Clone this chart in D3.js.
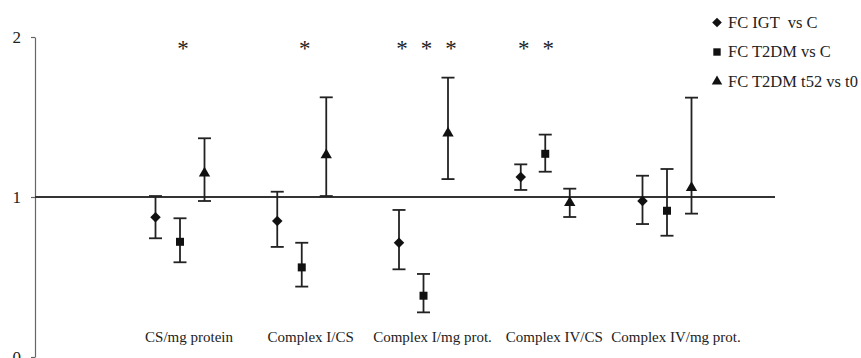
<!DOCTYPE html>
<html>
<head>
<meta charset="utf-8">
<script src="https://cdn.jsdelivr.net/npm/d3@7"></script>
<style>
  html, body { margin: 0; padding: 0; background: #fff; }
  svg { display: block; }
  text { font-family: "Liberation Serif", "Times New Roman", serif; fill: #222; }
</style>
</head>
<body>
<svg id="chart" width="861" height="358"></svg>
<script>
// ---- data ----
const categories = ["CS/mg protein", "Complex I/CS", "Complex I/mg prot.", "Complex IV/CS", "Complex IV/mg prot."];
const seriesNames = ["FC IGT  vs C", "FC T2DM vs C", "FC T2DM t52 vs t0"];
const seriesSymbols = ["diamond", "square", "triangle"];

const igtValue = [0.873, 0.85, 0.714, 1.125, 0.975];
const igtUpper = [1.006, 1.033, 0.919, 1.204, 1.133];
const igtLower = [0.742, 0.688, 0.548, 1.044, 0.831];

const t2dmValue = [0.72, 0.56, 0.383, 1.27, 0.914];
const t2dmUpper = [0.867, 0.714, 0.519, 1.39, 1.175];
const t2dmLower = [0.592, 0.44, 0.279, 1.158, 0.758];

const t52Value = [1.148, 1.262, 1.398, 0.964, 1.058];
const t52Upper = [1.367, 1.623, 1.746, 1.052, 1.621];
const t52Lower = [0.975, 1.006, 1.112, 0.875, 0.896];

// significance markers (asterisk above series point)
const igtSig  = [false, false, true, true, false];
const t2dmSig = [true, true, true, true, false];
const t52Sig  = [false, false, true, false, false];

const yTicks = [0, 1, 2];
const referenceValue = 1;

// ---- build ----
const series = [
  { name: seriesNames[0], symbol: seriesSymbols[0], value: igtValue, upper: igtUpper, lower: igtLower, sig: igtSig },
  { name: seriesNames[1], symbol: seriesSymbols[1], value: t2dmValue, upper: t2dmUpper, lower: t2dmLower, sig: t2dmSig },
  { name: seriesNames[2], symbol: seriesSymbols[2], value: t52Value, upper: t52Upper, lower: t52Lower, sig: t52Sig }
];

const svg = d3.select("#chart");
const axisX = 35, refLineEnd = 775;

const y = d3.scaleLinear().domain([0, 2]).range([357, 37]);
const x = d3.scalePoint().domain(categories).range([180, 667]);
const xOff = d3.scalePoint().domain(seriesNames).range([-24.5, 24.5]);

const symbolMap = { diamond: d3.symbolDiamond2, square: d3.symbolSquare, triangle: d3.symbolTriangle };
const symbolSize = { diamond: 70, square: 64, triangle: 56 };
const sym = s => d3.symbol().type(symbolMap[s]).size(symbolSize[s])();

// y axis
const yAxis = svg.append("g")
  .attr("transform", `translate(${axisX},0)`)
  .call(d3.axisLeft(y).tickValues(yTicks).tickFormat(d3.format("d")).tickSize(4).tickSizeOuter(0).tickPadding(10));
yAxis.select(".domain").attr("stroke", "#666").attr("stroke-width", 1.2);
yAxis.selectAll(".tick line").attr("stroke", "#666").attr("stroke-width", 1.2);
yAxis.selectAll(".tick text")
  .style("font-family", "'Liberation Serif', serif").style("font-size", "17px").attr("fill", "#222");

// reference line
svg.append("line")
  .attr("x1", axisX).attr("x2", refLineEnd)
  .attr("y1", y(referenceValue)).attr("y2", y(referenceValue))
  .attr("stroke", "#333").attr("stroke-width", 2);

// error bars + markers
const capHalf = 6.5;
series.forEach(s => {
  const g = svg.append("g");
  categories.forEach((c, i) => {
    const cx = x(c) + xOff(s.name);
    g.append("line").attr("x1", cx).attr("x2", cx)
      .attr("y1", y(s.upper[i])).attr("y2", y(s.lower[i]))
      .attr("stroke", "#222").attr("stroke-width", 1.8);
    [s.upper[i], s.lower[i]].forEach(v => {
      g.append("line").attr("x1", cx - capHalf).attr("x2", cx + capHalf)
        .attr("y1", y(v)).attr("y2", y(v))
        .attr("stroke", "#222").attr("stroke-width", 1.8);
    });
    g.append("path").attr("d", sym(s.symbol))
      .attr("transform", `translate(${cx},${y(s.value[i])})`)
      .attr("fill", "#111");
    if (s.sig[i]) {
      svg.append("text").attr("x", cx + 3).attr("y", 56)
        .attr("text-anchor", "middle").style("font-size", "23px").attr("fill", "#333")
        .text("*");
    }
  });
});

// category labels
svg.append("g").selectAll("text").data(categories).join("text")
  .attr("x", c => x(c) + 9).attr("y", 342)
  .attr("text-anchor", "middle").style("font-size", "15px")
  .text(c => c);

// legend
const legend = svg.append("g").attr("transform", "translate(717,0)");
series.forEach((s, i) => {
  const ly = 22.5 + i * 29.5;
  legend.append("path").attr("d", d3.symbol().type(symbolMap[s.symbol]).size(symbolSize[s.symbol] * 0.85)())
    .attr("transform", `translate(0,${ly})`).attr("fill", "#111");
  legend.append("text").attr("x", 11).attr("y", ly + 5).style("font-size", "16.5px")
    .attr("xml:space", "preserve").style("white-space", "pre")
    .text(s.name);
});
</script>
</body>
</html>
